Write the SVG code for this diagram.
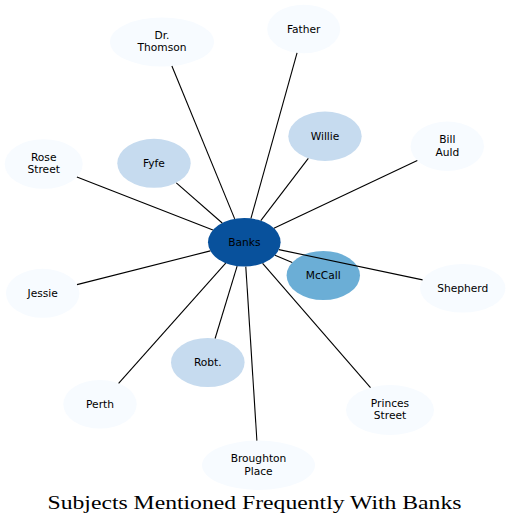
<svg xmlns="http://www.w3.org/2000/svg" width="511" height="526" viewBox="0 0 511 526">
<style>
.n0{fill:#f7fbff}
.n1{fill:#c6dbef}
.n2{fill:#6baed6}
.n3{fill:#08519c}
text.l{font-family:"DejaVu Sans",sans-serif;font-size:10.67px;fill:#000;text-anchor:middle}
#edges line{stroke:#000;stroke-width:1.1}
</style>
<rect width="511" height="526" fill="#ffffff"/>
<g id="node-banks"><ellipse class="n3" cx="244.3" cy="242.3" rx="36.3" ry="24.3"/><text class="l" x="244.3" y="246">Banks</text></g>
<g id="node-drthomson"><ellipse class="n0" cx="162" cy="42" rx="52" ry="24.5"/><text class="l" x="162" y="39.1">Dr.</text><text class="l" x="162" y="51.4">Thomson</text></g>
<g id="node-father"><ellipse class="n0" cx="303.7" cy="29" rx="36.5" ry="24.3"/><text class="l" x="303.7" y="32.7">Father</text></g>
<g id="node-willie"><ellipse class="n1" cx="325" cy="136.3" rx="36.7" ry="24.7"/><text class="l" x="325" y="140">Willie</text></g>
<g id="node-fyfe"><ellipse class="n1" cx="154" cy="163.3" rx="36.7" ry="24.5"/><text class="l" x="154" y="167">Fyfe</text></g>
<g id="node-rosestreet"><ellipse class="n0" cx="43.7" cy="164" rx="39" ry="24.8"/><text class="l" x="43.7" y="161.1">Rose</text><text class="l" x="43.7" y="173.3">Street</text></g>
<g id="node-billauld"><ellipse class="n0" cx="447.3" cy="146.3" rx="36.7" ry="24.7"/><text class="l" x="447.3" y="143.4">Bill</text><text class="l" x="447.3" y="155.6">Auld</text></g>
<g id="node-jessie"><ellipse class="n0" cx="42.7" cy="293.3" rx="36.7" ry="24.5"/><text class="l" x="42.7" y="297">Jessie</text></g>
<g id="node-mccall"><ellipse class="n2" cx="323.3" cy="275.5" rx="36.7" ry="24.5"/><text class="l" x="323.3" y="279.2">McCall</text></g>
<g id="node-shepherd"><ellipse class="n0" cx="462.7" cy="288.3" rx="42.7" ry="24.3"/><text class="l" x="462.7" y="292">Shepherd</text></g>
<g id="node-robt"><ellipse class="n1" cx="207.8" cy="362.5" rx="36.8" ry="24.5"/><text class="l" x="207.8" y="366.2">Robt.</text></g>
<g id="node-perth"><ellipse class="n0" cx="100" cy="404.3" rx="36.7" ry="24.3"/><text class="l" x="100" y="408">Perth</text></g>
<g id="node-broughtonplace"><ellipse class="n0" cx="258.5" cy="465.3" rx="56.5" ry="24.7"/><text class="l" x="258.5" y="462.4">Broughton</text><text class="l" x="258.5" y="474.6">Place</text></g>
<g id="node-princesstreet"><ellipse class="n0" cx="390" cy="410" rx="44" ry="25"/><text class="l" x="390" y="407.1">Princes</text><text class="l" x="390" y="419.3">Street</text></g>
<g id="edges">
<line x1="234.7" y1="218.9" x2="171.9" y2="66.05"/>
<line x1="250.95" y1="218.4" x2="297.05" y2="52.9"/>
<line x1="260.8" y1="220.6" x2="308.3" y2="158.3"/>
<line x1="222.2" y1="223.0" x2="176.3" y2="182.8"/>
<line x1="212.9" y1="230.1" x2="76.9" y2="177.0"/>
<line x1="273.9" y1="228.3" x2="417.3" y2="160.5"/>
<line x1="210.3" y1="250.9" x2="77.0" y2="284.6"/>
<line x1="275.0" y1="255.2" x2="292.2" y2="262.4"/>
<line x1="278.9" y1="249.6" x2="422.6" y2="279.9"/>
<line x1="237.1" y1="266.1" x2="215.1" y2="338.5"/>
<line x1="225.7" y1="263.2" x2="118.6" y2="383.4"/>
<line x1="245.8" y1="266.6" x2="256.9" y2="440.6"/>
<line x1="262.6" y1="263.3" x2="370.5" y2="387.6"/>
</g>
<text x="254.5" y="509" font-family="'Liberation Serif',serif" font-size="18.5" text-anchor="middle" textLength="414" lengthAdjust="spacingAndGlyphs" fill="#000">Subjects Mentioned Frequently With Banks</text>
</svg>
